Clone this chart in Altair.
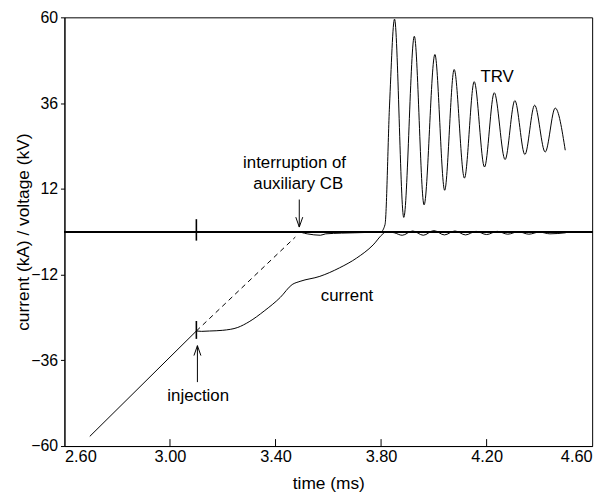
import altair as alt
import pandas as pd

# ---- data ----
# current: linear ramp up to the injection instant
ramp_t = [2.696, 3.100]
ramp_v = [-57.3, -27.8]

# current after injection
current_t = [3.100, 3.12, 3.15, 3.20, 3.257, 3.30, 3.357,
             3.418, 3.463, 3.493, 3.568, 3.643, 3.707, 3.770, 3.807, 3.82,
             3.85, 3.88, 3.92, 3.96, 4.00, 4.04, 4.08, 4.12, 4.16, 4.20, 4.24,
             4.28, 4.32, 4.36, 4.40, 4.44, 4.50]
current_v = [-27.8, -27.9, -27.8, -27.6, -26.8, -25.2, -22.2,
             -18.4, -14.8, -13.9, -12.5, -10.1, -7.4, -3.7, -0.6, 0.0,
             -0.3, -1.0, 0.2, -1.0, 0.3, -0.9, 0.2, -0.9, 0.1, -0.8, 0.1,
             -0.7, 0.0, -0.7, -0.1, -0.6, -0.3]

# injection spikes (time, low, high) on current and voltage traces
spike_t = [3.100, 3.100]
spike_lo = [-30.0, -2.5]
spike_hi = [-25.0, 3.5]

voltage_t = [2.60, 3.10, 3.48, 3.52, 3.57,
             3.59, 3.65, 3.75, 3.80, 3.815, 3.832, 3.851, 3.886, 3.926, 3.963,
             4.004, 4.041, 4.077, 4.116, 4.153, 4.192, 4.229, 4.270, 4.307,
             4.345, 4.382, 4.422, 4.460, 4.498]
voltage_v = [0.0, 0.0, 0.0, -0.6, -1.0,
             -0.6, -0.4, -0.2, 0.0, 2.0, 35.2, 59.5, 4.0, 54.7, 7.5,
             49.6, 11.6, 45.4, 15.0, 42.0, 18.1, 38.9, 20.2, 36.7,
             21.6, 35.4, 22.3, 34.6, 22.8]

dashed_t = [3.10, 3.475]
dashed_v = [-27.8, -1.5]

x_ticks = [2.60, 3.00, 3.40, 3.80, 4.20, 4.60]
y_ticks = [-60, -36, -12, 12, 36, 60]

labels = ["TRV", "interruption of", "auxiliary CB", "current", "injection"]
label_t = [4.240, 3.472, 3.486, 3.671, 3.107]
label_v = [42.0, 17.8, 12.05, -19.3, -47.3]

arrow_t = [3.49, 3.104]
arrow_top = [9.0, -31.9]
arrow_bottom = [1.3, -42.1]

FONT = "Liberation Sans"

ramp = pd.DataFrame({"t": ramp_t, "v": ramp_v})
cur = pd.DataFrame({"t": current_t, "v": current_v})
vol = pd.DataFrame({"t": voltage_t, "v": voltage_v})
spk = pd.DataFrame({"t": spike_t, "lo": spike_lo, "hi": spike_hi})
dsh = pd.DataFrame({"t": dashed_t, "v": dashed_v})
lab = pd.DataFrame({"label": labels, "t": label_t, "v": label_v})
arr = pd.DataFrame({"t": arrow_t, "y1": arrow_top, "y2": arrow_bottom})
xt = pd.DataFrame({"t": x_ticks[1:-1]})

xs = alt.Scale(domain=[2.6, 4.6], nice=False, zero=False)
ys = alt.Scale(domain=[-60, 60], nice=False, zero=False)

xaxis = alt.Axis(values=x_ticks, format=".2f", tickSize=0, labelPadding=3, labelFontSize=16.5,
                 title="time (ms)", titleX=266.5, titleY=43, titleBaseline="alphabetic",
                 titleFontWeight="normal", titleFontSize=17.5, grid=False)
yaxis = alt.Axis(values=y_ticks, tickSize=4, labelPadding=3, labelFontSize=16,
                 title="current (kA) / voltage (kV)", titleX=-41, titleY=216.5,
                 titleBaseline="middle", titleFontWeight="normal", titleFontSize=17.5,
                 grid=False)

X = alt.X("t:Q", scale=xs, axis=xaxis)
Y = alt.Y("v:Q", scale=ys, axis=yaxis)

zero = alt.Chart(cur).mark_rule(color="black", strokeWidth=1.3).encode(y=alt.datum(0))

vline = alt.Chart(vol).mark_line(color="black", strokeWidth=1, interpolate="monotone").encode(x=X, y=Y)
rline = alt.Chart(ramp).mark_line(color="black", strokeWidth=1).encode(x=X, y=Y)
cline = alt.Chart(cur).mark_line(color="black", strokeWidth=1, interpolate="monotone").encode(x=X, y=Y)
dline = alt.Chart(dsh).mark_line(color="black", strokeWidth=1, strokeDash=[5, 4]).encode(x=X, y=Y)
spikes = alt.Chart(spk).mark_rule(color="black", strokeWidth=1.6).encode(
    x="t:Q", y="lo:Q", y2="hi:Q")

ticks = alt.Chart(xt).mark_rule(color="black", strokeWidth=1).encode(
    x="t:Q", y=alt.value(433), y2=alt.value(426))

stems = alt.Chart(arr).mark_rule(color="black", strokeWidth=1).encode(
    x="t:Q", y="y1:Q", y2="y2:Q")

head_down = alt.Chart(arr.iloc[[0]]).mark_point(
    shape="M-0.35,-1L0,0L0.35,-1", size=400, filled=False, color="black", strokeWidth=1, opacity=1
).encode(x="t:Q", y="y2:Q")
head_up = alt.Chart(arr.iloc[[1]]).mark_point(
    shape="M-0.35,1L0,0L0.35,1", size=400, filled=False, color="black", strokeWidth=1, opacity=1
).encode(x="t:Q", y="y1:Q")

text = alt.Chart(lab).mark_text(font=FONT, fontSize=17, color="black", align="center",
                                baseline="alphabetic").encode(x="t:Q", y="v:Q", text="label:N")

chart = alt.layer(zero, dline, rline, cline, vline, spikes, ticks, stems, head_down, head_up,
                  text).properties(
    width=533, height=433,
    autosize=alt.AutoSizeParams(type="none"),
    padding={"left": 57, "top": 7, "right": 16, "bottom": 46},
).configure_view(stroke="black", strokeWidth=1).configure_axis(
    labelFont=FONT, titleFont=FONT,
    labelColor="black", titleColor="black", domainColor="black", tickColor="black",
    domainWidth=1,
)

chart.save("out.html", embed_options={"renderer": "svg", "actions": False})
